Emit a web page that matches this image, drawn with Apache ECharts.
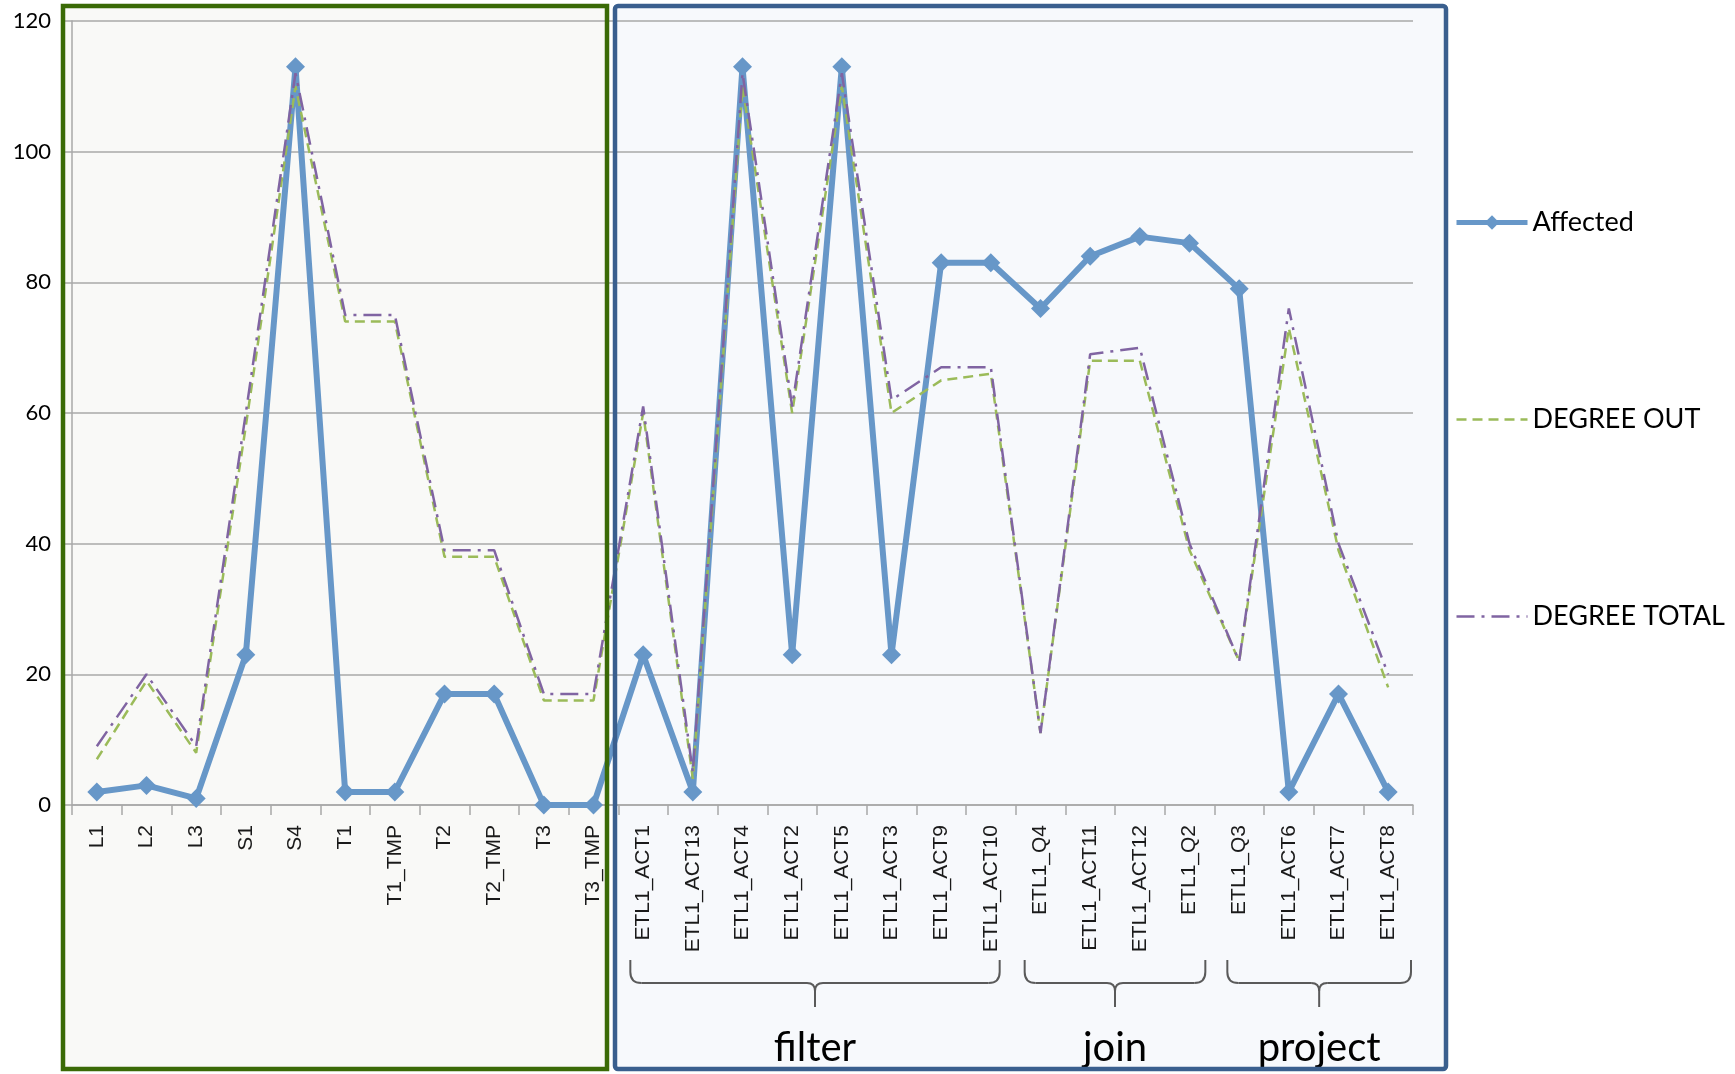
<!DOCTYPE html>
<html>
<head>
<meta charset="utf-8">
<script src="https://cdn.jsdelivr.net/npm/echarts@6/dist/echarts.min.js"></script>
<style>
  html, body { margin: 0; padding: 0; background: #ffffff; }
  #chart { width: 1735px; height: 1074px; }
</style>
</head>
<body>
<div id="chart"></div>
<script>
// Nodes of the ETL workflow, in plotting order
const categories = [
  'L1', 'L2', 'L3', 'S1', 'S4', 'T1', 'T1_TMP', 'T2', 'T2_TMP', 'T3', 'T3_TMP',
  'ETL1_ACT1', 'ETL1_ACT13', 'ETL1_ACT4', 'ETL1_ACT2', 'ETL1_ACT5', 'ETL1_ACT3', 'ETL1_ACT9', 'ETL1_ACT10',
  'ETL1_Q4', 'ETL1_ACT11', 'ETL1_ACT12', 'ETL1_Q2',
  'ETL1_Q3', 'ETL1_ACT6', 'ETL1_ACT7', 'ETL1_ACT8'
];

// Number of affected nodes per node
const affected = [2, 3, 1, 23, 113, 2, 2, 17, 17, 0, 0,
  23, 2, 113, 23, 113, 23, 83, 83,
  76, 84, 87, 86,
  79, 2, 17, 2];

// Out-degree per node
const degreeOut = [7, 19, 8, 58, 110, 74, 74, 38, 38, 16, 16,
  60, 4, 110, 60, 110, 60, 65, 66,
  11, 68, 68, 39,
  22, 73, 39, 18];

// Total degree per node
const degreeTotal = [9, 20, 9, 60, 112, 75, 75, 39, 39, 17, 17,
  61, 5, 112, 61, 112, 62, 67, 67,
  11, 69, 70, 40,
  22, 76, 40, 20];

// Value axis range
const yMin = 0;
const yMax = 120;
const yStep = 20;

// Operator groups bracketed under the axis
const groupNames = ['filter', 'join', 'project'];
const groupFirst = ['ETL1_ACT1', 'ETL1_Q4', 'ETL1_Q3'];
const groupLast = ['ETL1_ACT10', 'ETL1_Q2', 'ETL1_ACT8'];

const chart = echarts.init(document.getElementById('chart'), null, { renderer: 'canvas' });

const GRID = { left: 72, top: 21, width: 1341, height: 784 };
const gridColor = '#a8a8a8';
const blue = '#6797c8';
const green = '#9bbb59';
const purple = '#8064a2';

chart.setOption({
  animation: false,
  backgroundColor: '#ffffff',
  grid: GRID,
  legend: {
    orient: 'vertical',
    left: 1449,
    top: 204,
    itemWidth: 71,
    itemHeight: 18,
    itemGap: 170,
    textStyle: { fontFamily: 'Lato', fontSize: 27, color: '#000000' },
    data: [
      { name: 'Affected', lineStyle: { width: 5 } },
      { name: 'DEGREE OUT', itemStyle: { opacity: 0 }, lineStyle: { width: 2.5 } },
      { name: 'DEGREE TOTAL', itemStyle: { opacity: 0 }, lineStyle: { width: 2.5 } }
    ]
  },
  xAxis: {
    type: 'category',
    data: categories,
    boundaryGap: true,
    axisLine: { lineStyle: { color: gridColor, width: 1.5 } },
    axisTick: { show: true, length: 10, lineStyle: { color: gridColor, width: 1.5 } },
    axisLabel: {
      rotate: 90,
      interval: 0,
      margin: 20,
      fontFamily: 'Liberation Sans',
      fontSize: 21,
      color: '#1a1a1a'
    },
    splitLine: { show: false }
  },
  yAxis: {
    type: 'value',
    min: yMin,
    max: yMax,
    interval: yStep,
    axisLine: { show: true, lineStyle: { color: gridColor, width: 1.5 } },
    axisTick: { show: true, length: 9, lineStyle: { color: gridColor, width: 1.5 } },
    axisLabel: { fontFamily: 'Lato', fontSize: 22, color: '#000000', margin: 21 },
    splitLine: { show: true, lineStyle: { color: gridColor, width: 1.5 } }
  },
  series: [
    {
      name: 'Affected',
      type: 'line',
      data: affected,
      symbol: 'diamond',
      symbolSize: 19,
      lineStyle: { color: blue, width: 6 },
      itemStyle: { color: blue },
      z: 2
    },
    {
      name: 'DEGREE OUT',
      type: 'line',
      data: degreeOut,
      symbol: 'none',
      lineStyle: { color: green, width: 2.5, type: [10, 6] },
      itemStyle: { color: green },
      z: 3
    },
    {
      name: 'DEGREE TOTAL',
      type: 'line',
      data: degreeTotal,
      symbol: 'none',
      lineStyle: { color: purple, width: 2.5, type: [18, 7, 3, 7] },
      itemStyle: { color: purple },
      z: 4
    }
  ]
});

// Panel frames, group braces and group names
const band = GRID.width / categories.length;
const braceTop = 960;
const braceMid = 983;
const braceTip = 1007;
const insetLeft = [12, 9, 13];
const insetRight = [16, 9, 2];
const braceStyle = { stroke: '#5a5a5a', lineWidth: 2, fill: 'none' };

const graphics = [
  { type: 'rect', z: -10, silent: true, shape: { x: 63, y: 6, width: 544, height: 1063 }, style: { fill: '#f9f9f7' } },
  { type: 'rect', z: -10, silent: true, shape: { x: 615, y: 6, width: 831, height: 1063 }, style: { fill: '#f7f9fc' } },
  { type: 'rect', z: 100, silent: true, shape: { x: 63, y: 6, width: 544, height: 1063 }, style: { fill: 'none', stroke: '#3a6a06', lineWidth: 4.5 } },
  { type: 'rect', z: 100, silent: true, shape: { x: 615, y: 6, width: 831, height: 1063, r: 3 }, style: { fill: 'none', stroke: '#3a5f8e', lineWidth: 4.5 } }
];

function seg(xa, ya, xb, yb) {
  return { type: 'line', z: 50, silent: true, shape: { x1: xa, y1: ya, x2: xb, y2: yb }, style: braceStyle };
}
function curve(xa, ya, cx, cy, xb, yb) {
  return { type: 'bezierCurve', z: 50, silent: true, shape: { x1: xa, y1: ya, cpx1: cx, cpy1: cy, x2: xb, y2: yb }, style: braceStyle };
}

groupNames.forEach(function (name, i) {
  const a = chart.convertToPixel({ xAxisIndex: 0 }, groupFirst[i]);
  const b = chart.convertToPixel({ xAxisIndex: 0 }, groupLast[i]);
  const x0 = a - band / 2 + insetLeft[i];
  const x1 = b + band / 2 - insetRight[i];
  const xm = (x0 + x1) / 2;
  const re = 11;
  const rc = 8;
  graphics.push(
    seg(x0, braceTop, x0, braceMid - re),
    curve(x0, braceMid - re, x0, braceMid, x0 + re, braceMid),
    seg(x0 + re, braceMid, xm - rc, braceMid),
    curve(xm - rc, braceMid, xm, braceMid, xm, braceMid + rc),
    seg(xm, braceMid + rc, xm, braceTip),
    curve(xm, braceMid + rc, xm, braceMid, xm + rc, braceMid),
    seg(xm + rc, braceMid, x1 - re, braceMid),
    curve(x1 - re, braceMid, x1, braceMid, x1, braceMid - re),
    seg(x1, braceMid - re, x1, braceTop)
  );
  graphics.push({
    type: 'text', z: 50, silent: true,
    x: xm, y: 1068,
    style: {
      text: name,
      fontFamily: 'Lato',
      fontSize: 40,
      fill: '#000000',
      align: 'center',
      verticalAlign: 'bottom'
    }
  });
});

chart.setOption({ graphic: graphics });
</script>
</body>
</html>
